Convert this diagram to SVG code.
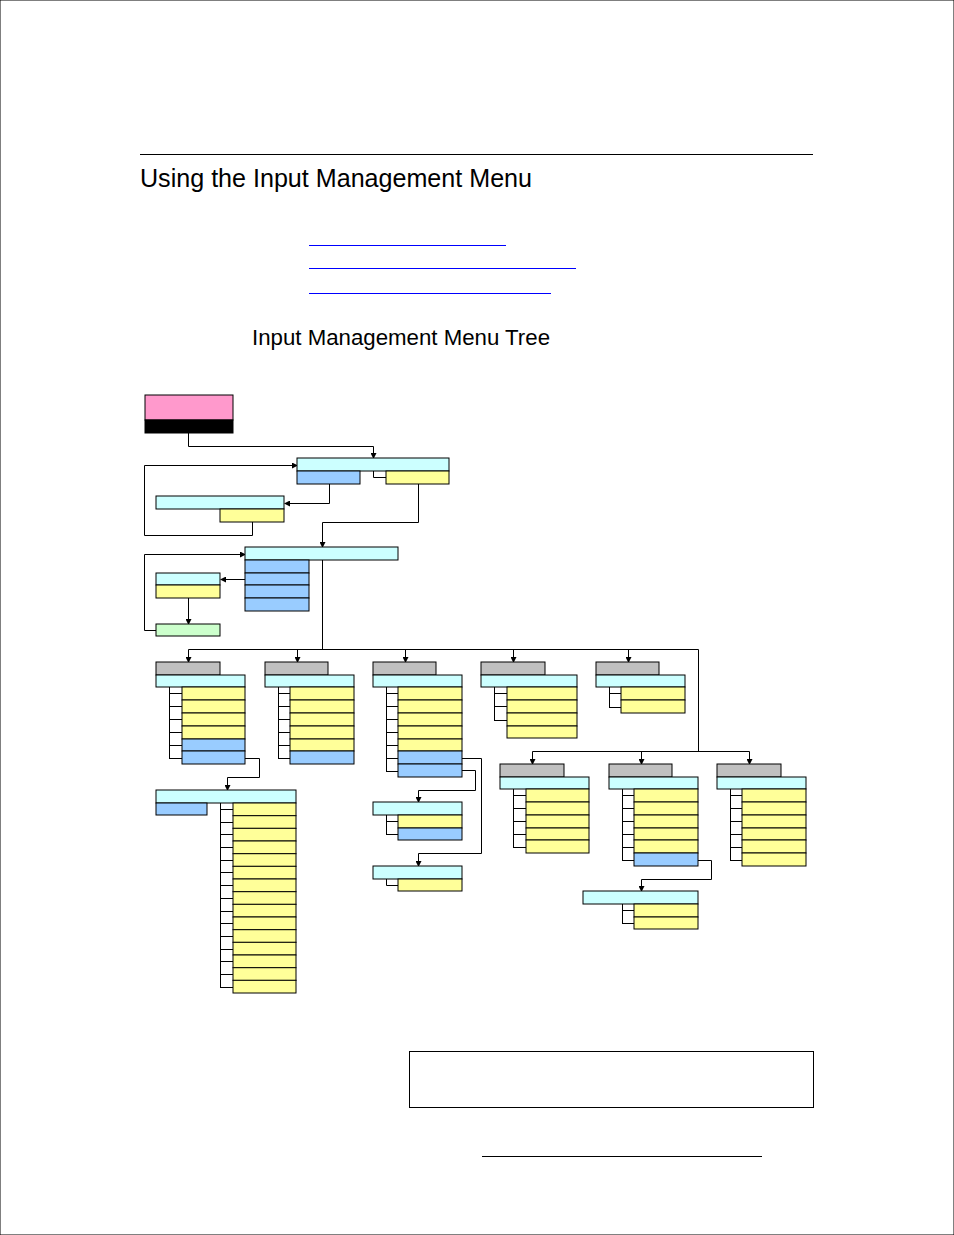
<svg xmlns="http://www.w3.org/2000/svg" width="954" height="1235" viewBox="0 0 954 1235">
<defs>
<style>
rect{stroke:#000;stroke-width:1}
.c{fill:#ccffff}.y{fill:#ffff99}.b{fill:#99ccff}.g{fill:#c0c0c0}.gr{fill:#ccffcc}
.l{fill:none;stroke:#000;stroke-width:1}
.a{fill:none;stroke:#000;stroke-width:1;marker-end:url(#ar)}
.t{font-family:"Liberation Sans",sans-serif;fill:#000}
</style>
<marker id="ar" markerWidth="6" markerHeight="6" refX="5" refY="3" orient="auto" markerUnits="userSpaceOnUse"><path d="M0,0 L6,3 L0,6z" fill="#000"/></marker>
</defs>
<rect x="0" y="0" width="954" height="1235" fill="#fff" stroke="none"/>
<line x1="140" y1="154.5" x2="813" y2="154.5" stroke="#000"/>
<text class="t" x="140" y="187" font-size="25" textLength="392" lengthAdjust="spacingAndGlyphs">Using the Input Management Menu</text>
<g stroke="#0000ff" stroke-width="1"><line x1="309" y1="245.5" x2="506" y2="245.5"/><line x1="309" y1="268.5" x2="576" y2="268.5"/><line x1="309" y1="293.5" x2="551" y2="293.5"/></g>
<text class="t" x="252" y="345" font-size="22" textLength="298" lengthAdjust="spacingAndGlyphs">Input Management Menu Tree</text>
<g id="connectors">
<path class="a" d="M188.5,433 V446.5 H373.5 V458"/>
<path class="l" d="M373.5,471 V477.5 H386"/>
<path class="a" d="M329.5,484 V503.5 H285"/>
<path class="a" d="M252.5,522 V535.5 H144.5 V465.5 H297"/>
<path class="a" d="M418.5,484 V522.5 H322.5 V547"/>
<path class="a" d="M245,579.5 H221"/>
<path class="a" d="M188.5,598 V624"/>
<path class="a" d="M156,630.5 H144.5 V554.5 H245"/>
<path class="l" d="M322.5,560 V649.5 M188.5,649.5 H698.5 V751.5 M532.5,751.5 H749.5"/>
<path class="a" d="M188.5,649.5 V662"/><path class="a" d="M297.5,649.5 V662"/><path class="a" d="M405.5,649.5 V662"/><path class="a" d="M513.5,649.5 V662"/><path class="a" d="M628.5,649.5 V662"/>
<path class="a" d="M532.5,751.5 V764"/><path class="a" d="M641.5,751.5 V764"/><path class="a" d="M749.5,751.5 V764"/>
<path class="a" d="M245,758.5 H259.5 V777.5 H227.5 V790"/>
<path class="a" d="M462,758.5 H481.5 V853.5 H418.5 V866"/>
<path class="a" d="M462,770.5 H475.5 V790.5 H418.5 V802"/>
<path class="a" d="M698,860.5 H711.5 V879.5 H641.5 V891"/>
</g>
<g id="root"><rect x="145" y="395" width="88" height="25" fill="#ff99cc"/><rect x="145" y="420" width="88" height="13" fill="#000"/></g>
<g id="nodeA"><rect class="c" x="297" y="458" width="152" height="13"/><rect class="b" x="297" y="471" width="63" height="13"/><rect class="y" x="386" y="471" width="63" height="13"/></g>
<g id="nodeB"><rect class="c" x="156" y="496" width="128" height="13"/><rect class="y" x="220" y="509" width="64" height="13"/></g>
<g id="nodeC"><rect class="c" x="245" y="547" width="153" height="13"/><rect class="b" x="245" y="560" width="64" height="13"/><rect class="b" x="245" y="573" width="64" height="12"/><rect class="b" x="245" y="585" width="64" height="13"/><rect class="b" x="245" y="598" width="64" height="13"/></g>
<g id="nodeD"><rect class="c" x="156" y="573" width="64" height="12"/><rect class="y" x="156" y="585" width="64" height="13"/></g>
<g id="nodeD2"><rect class="gr" x="156" y="624" width="64" height="12"/></g>
<g id="col1"><rect class="g" x="156" y="662" width="64" height="13"/><rect class="c" x="156" y="675" width="89" height="12"/>
<path class="l" d="M169.5,687 V758.5 M169,693.5 H182 M169,706.5 H182 M169,719.5 H182 M169,732.5 H182 M169,745.5 H182 M169,758.5 H182"/>
<rect class="y" x="182" y="687" width="63" height="13"/><rect class="y" x="182" y="700" width="63" height="13"/><rect class="y" x="182" y="713" width="63" height="13"/><rect class="y" x="182" y="726" width="63" height="13"/><rect class="b" x="182" y="739" width="63" height="12"/><rect class="b" x="182" y="751" width="63" height="13"/></g>
<g id="col2"><rect class="g" x="265" y="662" width="63" height="13"/><rect class="c" x="265" y="675" width="89" height="12"/>
<path class="l" d="M278.5,687 V758.5 M278,693.5 H290 M278,706.5 H290 M278,719.5 H290 M278,732.5 H290 M278,745.5 H290 M278,758.5 H290"/>
<rect class="y" x="290" y="687" width="64" height="13"/><rect class="y" x="290" y="700" width="64" height="13"/><rect class="y" x="290" y="713" width="64" height="13"/><rect class="y" x="290" y="726" width="64" height="13"/><rect class="y" x="290" y="739" width="64" height="12"/><rect class="b" x="290" y="751" width="64" height="13"/></g>
<g id="col3"><rect class="g" x="373" y="662" width="63" height="13"/><rect class="c" x="373" y="675" width="89" height="12"/>
<path class="l" d="M386.5,687 V771.5 M386,693.5 H398 M386,706.5 H398 M386,719.5 H398 M386,732.5 H398 M386,745.5 H398 M386,758.5 H398 M386,771.5 H398"/>
<rect class="y" x="398" y="687" width="64" height="13"/><rect class="y" x="398" y="700" width="64" height="13"/><rect class="y" x="398" y="713" width="64" height="13"/><rect class="y" x="398" y="726" width="64" height="13"/><rect class="y" x="398" y="739" width="64" height="12"/><rect class="b" x="398" y="751" width="64" height="13"/><rect class="b" x="398" y="764" width="64" height="13"/></g>
<g id="col4"><rect class="g" x="481" y="662" width="64" height="13"/><rect class="c" x="481" y="675" width="96" height="12"/>
<path class="l" d="M494.5,687 V720.5 M494,693.5 H507 M494,706.5 H507 M494,720.5 H507"/>
<rect class="y" x="507" y="687" width="70" height="13"/><rect class="y" x="507" y="700" width="70" height="13"/><rect class="y" x="507" y="713" width="70" height="13"/><rect class="y" x="507" y="726" width="70" height="12"/></g>
<g id="col5"><rect class="g" x="596" y="662" width="63" height="13"/><rect class="c" x="596" y="675" width="89" height="12"/>
<path class="l" d="M609.5,687 V707.5 M609,693.5 H621 M609,707.5 H621"/>
<rect class="y" x="621" y="687" width="64" height="13"/><rect class="y" x="621" y="700" width="64" height="13"/></g>
<g id="nodeE"><rect class="c" x="156" y="790" width="140" height="13"/><rect class="b" x="156" y="803" width="51" height="12"/>
<path class="l" d="M220.5,803 V987.5 M220,809.5 H233 M220,822.5 H233 M220,834.5 H233 M220,847.5 H233 M220,860.5 H233 M220,872.5 H233 M220,885.5 H233 M220,898.5 H233 M220,911.5 H233 M220,923.5 H233 M220,936.5 H233 M220,949.5 H233 M220,961.5 H233 M220,974.5 H233 M220,987.5 H233"/>
<rect class="y" x="233" y="803" width="63" height="12.7"/><rect class="y" x="233" y="815.7" width="63" height="12.7"/><rect class="y" x="233" y="828.3" width="63" height="12.7"/><rect class="y" x="233" y="841" width="63" height="12.7"/><rect class="y" x="233" y="853.7" width="63" height="12.7"/><rect class="y" x="233" y="866.3" width="63" height="12.7"/><rect class="y" x="233" y="879" width="63" height="12.7"/><rect class="y" x="233" y="891.7" width="63" height="12.7"/><rect class="y" x="233" y="904.3" width="63" height="12.7"/><rect class="y" x="233" y="917" width="63" height="12.7"/><rect class="y" x="233" y="929.7" width="63" height="12.7"/><rect class="y" x="233" y="942.3" width="63" height="12.7"/><rect class="y" x="233" y="955" width="63" height="12.7"/><rect class="y" x="233" y="967.7" width="63" height="12.7"/><rect class="y" x="233" y="980.3" width="63" height="12.7"/></g>
<g id="nodeF"><rect class="c" x="373" y="802" width="89" height="13"/>
<path class="l" d="M386.5,815 V834.5 M386,821.5 H398 M386,834.5 H398"/>
<rect class="y" x="398" y="815" width="64" height="13"/><rect class="b" x="398" y="828" width="64" height="12"/></g>
<g id="nodeG"><rect class="c" x="373" y="866" width="89" height="13"/>
<path class="l" d="M386.5,879 V885.5 H398"/>
<rect class="y" x="398" y="879" width="64" height="12"/></g>
<g id="col6"><rect class="g" x="500" y="764" width="64" height="13"/><rect class="c" x="500" y="777" width="89" height="12"/>
<path class="l" d="M513.5,789 V847.5 M513,795.5 H526 M513,808.5 H526 M513,821.5 H526 M513,834.5 H526 M513,847.5 H526"/>
<rect class="y" x="526" y="789" width="63" height="13"/><rect class="y" x="526" y="802" width="63" height="13"/><rect class="y" x="526" y="815" width="63" height="13"/><rect class="y" x="526" y="828" width="63" height="12"/><rect class="y" x="526" y="840" width="63" height="13"/></g>
<g id="col7"><rect class="g" x="609" y="764" width="63" height="13"/><rect class="c" x="609" y="777" width="89" height="12"/>
<path class="l" d="M622.5,789 V860.5 M622,795.5 H634 M622,808.5 H634 M622,821.5 H634 M622,834.5 H634 M622,847.5 H634 M622,860.5 H634"/>
<rect class="y" x="634" y="789" width="64" height="13"/><rect class="y" x="634" y="802" width="64" height="13"/><rect class="y" x="634" y="815" width="64" height="13"/><rect class="y" x="634" y="828" width="64" height="12"/><rect class="y" x="634" y="840" width="64" height="13"/><rect class="b" x="634" y="853" width="64" height="13"/></g>
<g id="col8"><rect class="g" x="717" y="764" width="64" height="13"/><rect class="c" x="717" y="777" width="89" height="12"/>
<path class="l" d="M730.5,789 V860.5 M730,795.5 H742 M730,808.5 H742 M730,821.5 H742 M730,834.5 H742 M730,847.5 H742 M730,860.5 H742"/>
<rect class="y" x="742" y="789" width="64" height="13"/><rect class="y" x="742" y="802" width="64" height="13"/><rect class="y" x="742" y="815" width="64" height="13"/><rect class="y" x="742" y="828" width="64" height="12"/><rect class="y" x="742" y="840" width="64" height="13"/><rect class="y" x="742" y="853" width="64" height="13"/></g>
<g id="nodeH"><rect class="c" x="583" y="891" width="115" height="13"/>
<path class="l" d="M622.5,904 V923.5 M622,910.5 H634 M622,923.5 H634"/>
<rect class="y" x="634" y="904" width="64" height="13"/><rect class="y" x="634" y="917" width="64" height="12"/></g>
<rect x="409.5" y="1051.5" width="404" height="56" fill="none" stroke="#000"/>
<line x1="482" y1="1156.5" x2="762" y2="1156.5" stroke="#000"/>
</svg>
